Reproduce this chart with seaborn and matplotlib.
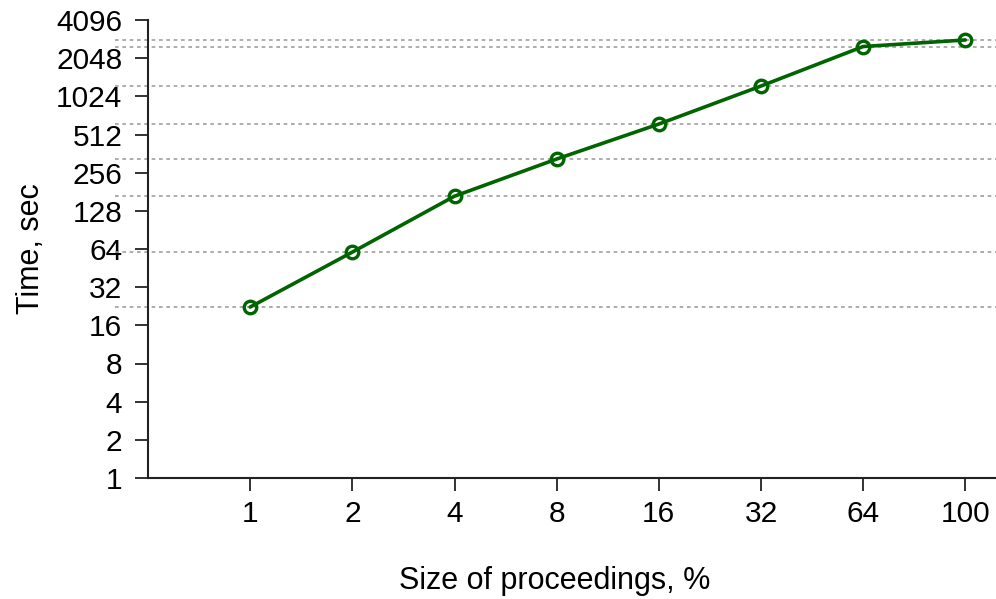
import numpy as np
import matplotlib
matplotlib.use("Agg")
import matplotlib.pyplot as plt
import seaborn as sns

# size of proceedings (%) and measured time (sec)
sizes = ["1", "2", "4", "8", "16", "32", "64", "100"]
times = [22.3, 60.5, 167, 328, 619, 1235, 2530, 2850]
y_ticks = [1, 2, 4, 8, 16, 32, 64, 128, 256, 512, 1024, 2048, 4096]

sns.set_style("ticks")
plt.rcParams['font.family'] = ['Liberation Sans', 'DejaVu Sans']
plt.rcParams['text.color'] = 'black'
plt.rcParams['axes.labelcolor'] = 'black'
plt.rcParams['xtick.color'] = 'black'
plt.rcParams['ytick.color'] = 'black'

fig = plt.figure(figsize=(9.96, 5.99), dpi=100)
ax = fig.add_axes([148 / 996, 1 - 478 / 599, 848 / 996, 458 / 599])

pos = np.arange(len(sizes))

# dashed guide lines at every measured value
for t in times:
    ax.axhline(t, xmin=-0.039, xmax=1, color='#a0a0a0', lw=1.2,
               ls=(0, (2.2, 2.2)), clip_on=False, zorder=1)

sns.lineplot(x=pos, y=times, ax=ax, color='#006400', lw=2.6,
             marker='o', markersize=9, markerfacecolor='none',
             markeredgecolor='#006400', markeredgewidth=2.4, zorder=3)

ax.set_yscale('log', base=2)
ax.set_ylim(1, 4096)
ax.set_yticks(y_ticks)
ax.set_yticklabels([str(v) for v in y_ticks])
ax.yaxis.set_minor_locator(matplotlib.ticker.NullLocator())

ax.set_xlim(-1, 7.3)
ax.set_xticks(pos)
ax.set_xticklabels(sizes)

ax.tick_params(axis='both', labelsize=21.5, length=9.5, width=1.3,
               color='#222222', labelcolor='black')
ax.tick_params(axis='y', pad=9)
ax.tick_params(axis='x', pad=6)
for s in ['left', 'bottom']:
    ax.spines[s].set_linewidth(1.5)
    ax.spines[s].set_color('#222222')
sns.despine(ax=ax)

ax.set_xlabel('Size of proceedings, %', fontsize=22)
ax.xaxis.set_label_coords(0.48, -0.192)
ax.set_ylabel('Time, sec', fontsize=22)
ax.yaxis.set_label_coords(-0.12, 0.5)

fig.savefig('out.png', dpi=100)
